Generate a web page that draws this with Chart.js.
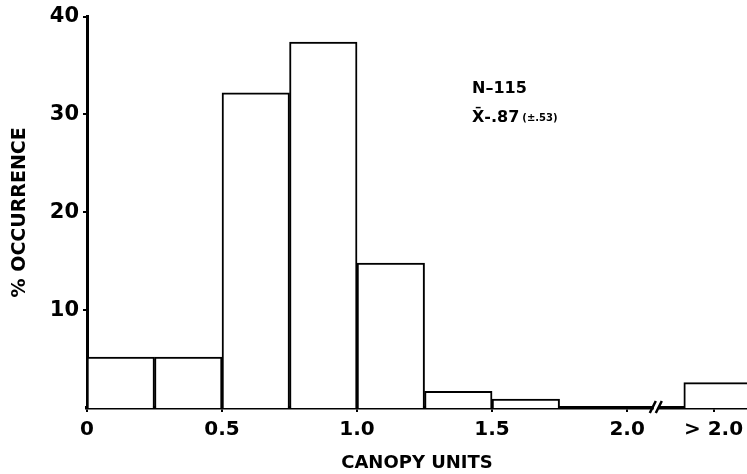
<!DOCTYPE html>
<html>
<head>
<meta charset="utf-8">
<script src="https://cdn.jsdelivr.net/npm/chart.js@4"></script>
<style>
  html, body { margin: 0; padding: 0; background: #fff; }
  #wrap { width: 747px; height: 474px; position: relative; }
</style>
</head>
<body>
<div id="wrap"><canvas id="canopyChart"></canvas></div>
<script>
// canopy unit classes (lower edge of each bin), % occurrence
const binLabels = ["0-0.25", "0.25-0.5", "0.5-0.75", "0.75-1.0", "1.0-1.25", "1.25-1.5", "1.5-1.75", "1.75-2.0", ">2.0"];
const binLow = [0, 0.25, 0.5, 0.75, 1.0, 1.25, 1.5, 1.75, 2.21];
const binWidth = 0.25;
const percentOcc = [5.2, 5.2, 32.2, 37.4, 14.8, 1.7, 0.9, 0, 2.6];

const xTickValues = [0, 0.5, 1.0, 1.5, 2.0, 2.32];
const xTickLabels = ["0", "0.5", "1.0", "1.5", "2.0", "> 2.0"];
const yTickValues = [10, 20, 30, 40];

const breakAt = 2.11;
const statLines = ["N\u2013115", "X\u0304-.87", "(\u00b1.53)"];

const boldFont = "'DejaVu Sans', 'Liberation Sans', sans-serif";

// draws the axis break and the N / mean note
const extras = {
  id: "extras",
  afterDraw(chart) {
    const ctx = chart.ctx;
    const xs = chart.scales.x;
    const bottom = chart.chartArea.bottom;
    const bx = xs.getPixelForValue(breakAt);
    ctx.save();
    ctx.fillStyle = "#fff";
    ctx.fillRect(bx - 3, bottom - 3, 5, 6);
    ctx.strokeStyle = "#000";
    ctx.lineWidth = 2.5;
    ctx.beginPath();
    ctx.moveTo(bx - 7, bottom + 5);
    ctx.lineTo(bx - 1, bottom - 7);
    ctx.moveTo(bx - 1, bottom + 5);
    ctx.lineTo(bx + 5, bottom - 7);
    ctx.stroke();

    ctx.fillStyle = "#000";
    ctx.textBaseline = "alphabetic";
    ctx.font = "bold 16px " + boldFont;
    ctx.fillText(statLines[0], 472, 93);
    ctx.fillText(statLines[1], 472, 122);
    const w = ctx.measureText(statLines[1]).width;
    ctx.font = "bold 10px " + boldFont;
    ctx.fillText(statLines[2], 472 + w + 3, 121);
    ctx.restore();
  }
};

const ctx = document.getElementById("canopyChart").getContext("2d");
const canopyChart = new Chart(ctx, {
  type: "bar",
  data: {
    labels: binLabels,
    datasets: [{
      label: "% occurrence",
      data: binLow.map((lo, i) => ({ x: lo + binWidth / 2, y: percentOcc[i] })),
      backgroundColor: "#fff",
      borderColor: "#000",
      borderWidth: 2,
      barPercentage: 1,
      categoryPercentage: 1,
    }]
  },
  options: {
    responsive: true,
    maintainAspectRatio: false,
    animation: false,
    layout: { padding: { top: 16, right: 0, left: 0, bottom: 0 } },
    plugins: {
      legend: { display: false },
      tooltip: { enabled: false },
    },
    scales: {
      x: {
        type: "linear",
        offset: false,
        min: 0,
        max: 2.444,
        afterBuildTicks: (s) => { s.ticks = xTickValues.map(v => ({ value: v })); },
        afterFit: (s) => {
          s.height = 66;
          s.paddingLeft = 0;
          s.paddingRight = 0;
        },
        ticks: {
          color: "#000",
          autoSkip: false,
          maxRotation: 0,
          padding: 6,
          font: { size: 20, weight: "bold", family: boldFont },
          callback: (v, i) => xTickLabels[i],
        },
        grid: { offset: false, drawOnChartArea: false, drawTicks: true, tickLength: 4, color: "#000", lineWidth: 2 },
        border: { color: "#000", width: 3.5 },
        title: {
          display: true,
          text: "CANOPY UNITS",
          color: "#000",
          font: { size: 18, weight: "bold", family: boldFont },
          padding: { top: 4, bottom: 0 },
        },
      },
      y: {
        min: 0,
        max: 40,
        afterBuildTicks: (s) => { s.ticks = yTickValues.map(v => ({ value: v })); },
        afterFit: (s) => { s.width = 87; },
        ticks: {
          color: "#000",
          padding: 4,
          font: { size: 21, weight: "bold", family: boldFont },
        },
        grid: { drawOnChartArea: false, drawTicks: true, tickLength: 4, color: "#000", lineWidth: 2 },
        border: { color: "#000", width: 3 },
        title: {
          display: true,
          text: "% OCCURRENCE",
          color: "#000",
          font: { size: 19, weight: "bold", family: boldFont },
          padding: { top: 9, bottom: 0 },
        },
      },
    },
  },
  plugins: [extras],
});
</script>
</body>
</html>
